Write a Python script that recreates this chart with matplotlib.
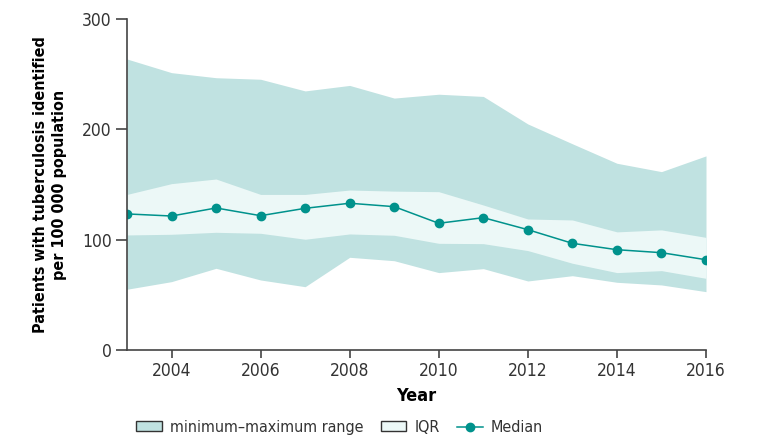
import matplotlib.pyplot as plt
from matplotlib.patches import Patch
from matplotlib.lines import Line2D

plt.rcParams['font.family'] = ['DejaVu Sans']
plt.rcParams['font.stretch'] = 'condensed'

years = [2003, 2004, 2005, 2006, 2007, 2008, 2009, 2010, 2011, 2012, 2013, 2014, 2015, 2016]
maximum = [264, 251.6, 247, 245.6, 235, 240, 228.5, 232, 230, 205, 187, 169.3, 161.7, 176]
q3 = [141, 150.8, 155, 141, 141, 145, 144, 143.5, 131.4, 118.7, 117.8, 107, 108.8, 102]
median = [123.3, 121.4, 128.7, 121.7, 128.4, 133, 129.9, 114.8, 119.9, 109, 96.6, 90.8, 88.1, 81.7]
q1 = [104.2, 104.8, 106.6, 105.7, 100.3, 105.1, 103.9, 96.6, 96.3, 90, 78.5, 70, 71.8, 64.8]
minimum = [54.9, 61.8, 73.9, 63.3, 57.2, 83.9, 80.8, 70, 73.6, 62.4, 67.2, 61.2, 58.8, 52.7]

range_color = "#c0e2e1"
iqr_color = "#ecf8f7"
median_color = "#00928c"

fig = plt.figure(figsize=(7.71, 4.47), dpi=100)
ax = fig.add_axes([0.1647, 0.2177, 0.751, 0.739])

ax.fill_between(years, minimum, maximum, color=range_color, lw=0)
ax.fill_between(years, q1, q3, color=iqr_color, lw=0)
ax.plot(years, median, color=median_color, marker="o", markersize=6, lw=1.1)

ax.set_xlim(2003, 2016)
ax.set_ylim(0, 300)
ax.set_xticks(range(2004, 2017, 2))
ax.set_yticks([0, 100, 200, 300])

for s in ["top", "right"]:
    ax.spines[s].set_visible(False)
for s in ["left", "bottom"]:
    ax.spines[s].set_color("#444444")
    ax.spines[s].set_linewidth(1.2)

ax.tick_params(axis="both", colors="#444444", labelsize=12.5, labelcolor="#333333")
ax.tick_params(axis="y", length=8, width=1.2, pad=3)
ax.tick_params(axis="x", length=6, width=1.2, pad=3)

ax.set_xlabel("Year", fontsize=13, fontweight="bold", labelpad=5)
ax.set_ylabel("Patients with tuberculosis identified\nper 100 000 population",
              fontsize=11.5, fontweight="bold", labelpad=11, linespacing=1.3)

handles = [
    Patch(facecolor=range_color, edgecolor="#333333", lw=1),
    Patch(facecolor=iqr_color, edgecolor="#333333", lw=1),
    Line2D([], [], color=median_color, marker="o", markersize=6, lw=1.1),
]
labels = ["minimum\u2013maximum range", "IQR", "Median"]
leg = fig.legend(handles, labels, loc="lower left", bbox_to_anchor=(0.158, -0.005), ncol=3,
                 frameon=False, fontsize=11.5, handlelength=1.6, handleheight=0.6,
                 columnspacing=1.1, handletextpad=0.5)
for t in leg.get_texts():
    t.set_color("#333333")

plt.savefig("out.png", dpi=100)
plt.close(fig)
